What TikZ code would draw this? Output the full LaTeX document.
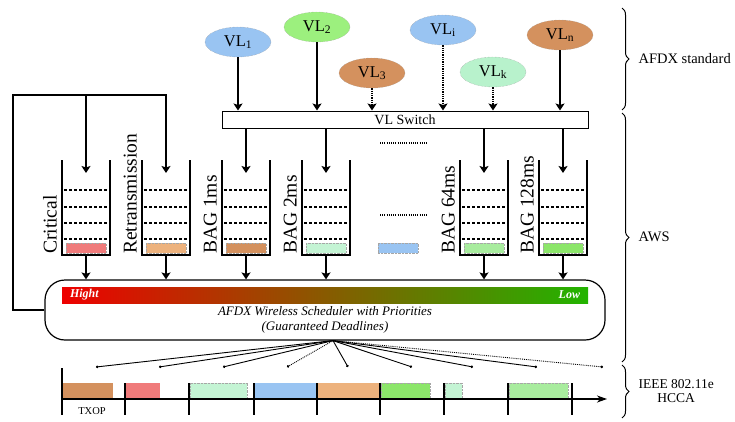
\documentclass[tikz,border=0pt]{standalone}
\usepackage{fontspec}
\setmainfont{Liberation Serif}
\usetikzlibrary{arrows.meta,shapes.geometric,decorations.pathreplacing}

\definecolor{vlblue}{HTML}{99C4F2}
\definecolor{vlgreen}{HTML}{9CF07E}
\definecolor{vlbrown}{HTML}{D4915E}
\definecolor{vlmint}{HTML}{B8F2CC}
\definecolor{qred}{HTML}{F07B7B}
\definecolor{qorange}{HTML}{EDB27D}
\definecolor{qmint}{HTML}{C4F4D4}
\definecolor{qlgreen}{HTML}{A8EC9E}
\definecolor{qgreen}{HTML}{8CE66A}
\definecolor{prioh}{HTML}{EE0000}
\definecolor{priol}{HTML}{22B400}

\begin{document}
\begin{tikzpicture}[
		x=1pt, y=-1pt,
		font=\fontsize{14.5}{16}\selectfont,
		vl/.style={ellipse, draw=black!40, densely dotted, fill=#1, minimum width=66pt,
			minimum height=30pt, inner sep=0pt, font=\fontsize{16.5}{18}\selectfont},
		arr/.style={-{Stealth[length=7pt, width=9pt, inset=1.5pt]}, line width=1.3pt},
		varr/.style={arr, densely dotted},
		qdash/.style={line width=1.4pt, dash pattern=on 3pt off 2pt},
		queue/.style={minimum width=48pt, minimum height=95pt, inner sep=0pt, outer sep=0pt,
			path picture={
				\foreach \d in {30,47,63,79}
					\draw[qdash] ([shift={(2,\d)}]path picture bounding box.north west)
						-- ([shift={(-2,\d)}]path picture bounding box.north east);
				\draw[densely dotted, draw=black!35, fill=#1]
					([shift={(4,83)}]path picture bounding box.north west)
					rectangle ([shift={(-4,-2)}]path picture bounding box.south east);
			}},
		wall/.style={line width=1.5pt},
		qlabel/.style={rotate=90, anchor=south west, inner sep=1pt, font=\fontsize{19.5}{22}\selectfont},
		prio/.style={text=white, inner xsep=8pt, inner ysep=2pt, font=\bfseries\itshape\fontsize{12}{13}\selectfont},
		slot/.style={anchor=south west, minimum height=16pt, inner sep=0pt, fill=#1, draw=#1},
		dslot/.style={slot=#1, draw=black!35, densely dotted},
		fan/.style={line width=0.9pt, -{Circle[length=2.5pt]}},
		brace/.style={decorate, decoration={brace, amplitude=7pt}, line width=1pt},
	]
		\useasboundingbox (0,0) rectangle (735,421);

		% Virtual Links und VL Switch
		\node[vl=vlblue] (vl1) at (238,42) {VL\textsubscript{1}};
		\node[vl=vlgreen] (vl2) at (317,27) {VL\textsubscript{2}};
		\node[vl=vlbrown] (vl3) at (372,73) {VL\textsubscript{3}};
		\node[vl=vlblue] (vli) at (443,30) {VL\textsubscript{i}};
		\node[vl=vlmint] (vlk) at (493,72) {VL\textsubscript{k}};
		\node[vl=vlbrown] (vln) at (560,35) {VL\textsubscript{n}};
		\node[draw, line width=1pt, minimum width=366pt, minimum height=17pt, inner sep=0pt,
			font=\fontsize{14}{15}\selectfont] (sw) at (405,119.5) {VL Switch};

		\draw[arr] (vl1) -- (vl1 |- sw.north);
		\draw[arr] (vl2) -- (vl2 |- sw.north);
		\draw[varr] (vl3) -- (vl3 |- sw.north);
		\draw[varr] (vli) -- (vli |- sw.north);
		\draw[varr] (vlk) -- (vlk |- sw.north);
		\draw[arr] (vln) -- (vln |- sw.north);

		% Warteschlangen
		\node[queue=qred] (q1) at (86,207.5) {};
		\node[queue=qorange] (q2) at (166,207.5) {};
		\node[queue=vlbrown] (q3) at (246,207.5) {};
		\node[queue=qmint] (q4) at (326,207.5) {};
		\node[queue=qlgreen] (q5) at (484,207.5) {};
		\node[queue=qgreen] (q6) at (563,207.5) {};
		\foreach \q in {q1,q2,q3,q4,q5,q6}
			\draw[wall] (\q.north west) -- (\q.south west) -- (\q.south east) -- (\q.north east);

		\node[qlabel] (l1) at ([xshift=-4pt]q1.south west) {Critical};
		\node[qlabel] (l2) at ([xshift=-4pt]q2.south west) {Retransmission};
		\node[qlabel] (l3) at ([xshift=-4pt]q3.south west) {BAG 1ms};
		\node[qlabel] (l4) at ([xshift=-4pt]q4.south west) {BAG 2ms};
		\node[qlabel] (l5) at ([xshift=-4pt]q5.south west) {BAG 64ms};
		\node[qlabel] (l6) at ([xshift=-4pt]q6.south west) {BAG 128ms};

		% Auslassung zwischen den Schlangen
		\draw[line width=1.2pt, dash pattern=on 1pt off 1.2pt] (380,143) -- (428,143);
		\draw[line width=1.2pt, dash pattern=on 1pt off 1.2pt] (380,215) -- (428,215);
		\node[fill=vlblue, draw=black!35, densely dotted, minimum width=40pt, minimum height=10pt,
			inner sep=0pt] (qx) at (398,248) {};

		% Scheduler
		\node[draw, line width=1.2pt, rounded corners=20pt, minimum width=560pt, minimum height=60pt]
			(sched) at (325,310) {};
		\node[minimum width=526pt, minimum height=16pt, inner sep=0pt, left color=prioh, right color=priol]
			(bar) at (325,295) {};
		\node[prio, anchor=west] (hi) at (bar.west) {Hight};
		\node[prio, anchor=east] (lo) at (bar.east) {Low};
		\node[align=center, font=\itshape\fontsize{13}{15}\selectfont] (stxt) at (325,320)
			{AFDX Wireless Scheduler with Priorities\\(Guaranteed Deadlines)};

		% Zufluss in die Schlangen
		\foreach \q in {q3,q4,q5,q6}
			\draw[arr] (sw.south -| \q.north) -- ([yshift=-13pt]\q.north);
		\coordinate (lt) at (13,95);
		\draw[arr] (sched.west) -| (lt) -| ([yshift=-13pt]q2.north);
		\draw[arr] (lt -| q1.north) -- ([yshift=-13pt]q1.north);
		\foreach \q in {q1,q2,q3,q4,q5,q6}
			\draw[arr] (\q.south) -- (\q.south |- sched.north);

		% Zeitachse mit TXOP-Slots
		\node[slot=vlbrown, minimum width=49pt] (s1) at (63,399) {};
		\node[slot=qred, minimum width=33pt] (s2) at (126,399) {};
		\node[dslot=qmint, minimum width=57pt] (s3) at (190,399) {};
		\node[slot=vlblue, minimum width=62pt] (s4) at (255,399) {};
		\node[slot=qorange, minimum width=60pt] (s5) at (318,399) {};
		\node[dslot=qgreen, minimum width=49pt] (s6) at (381,399) {};
		\node[dslot=qmint, minimum width=17pt] (s7) at (445,399) {};
		\node[dslot=qlgreen, minimum width=59pt] (s8) at (509,399) {};
		\coordinate (t0) at (62,399);
		\coordinate (t1) at (607,399);
		\draw[line width=1.2pt, -{Stealth[length=10pt, width=7pt, inset=3pt]}] (t0) -- (t1);
		\draw[line width=1.3pt] (62,368) -- (62,415);
		\foreach \x in {125,189,254,317,380,444,508,572}
			\draw[line width=1.3pt] (\x,383) -- (\x,415);
		\node[font=\fontsize{10.5}{11}\selectfont] (txop) at (92,411) {TXOP};

		% Zuteilung vom Scheduler
		\coordinate (fan) at ([xshift=8pt]sched.south);
		\foreach \x [count=\i] in {96,159,223,348,412,473,537} {
			\coordinate (e\i) at (\x,367);
			\draw[fan] (fan) -- (e\i);
		}
		\coordinate (ed1) at (287,367);
		\coordinate (ed2) at (603,367);
		\draw[fan, densely dotted] (fan) -- (ed1);
		\draw[fan, densely dotted] (fan) -- (ed2);

		% Ebenen
		\draw[brace] (622,8) -- (622,110);
		\draw[brace] (622,113) -- (622,362);
		\draw[brace] (622,365) -- (622,418);
		\node[anchor=west] (afdx) at (635,59) {AFDX standard};
		\node[anchor=west] (aws) at (635,237) {AWS};
		\node[anchor=west, align=center, font=\fontsize{13.5}{14}\selectfont] (hcca) at (635,391)
			{IEEE 802.11e\\HCCA};
	\end{tikzpicture}
\end{document}
